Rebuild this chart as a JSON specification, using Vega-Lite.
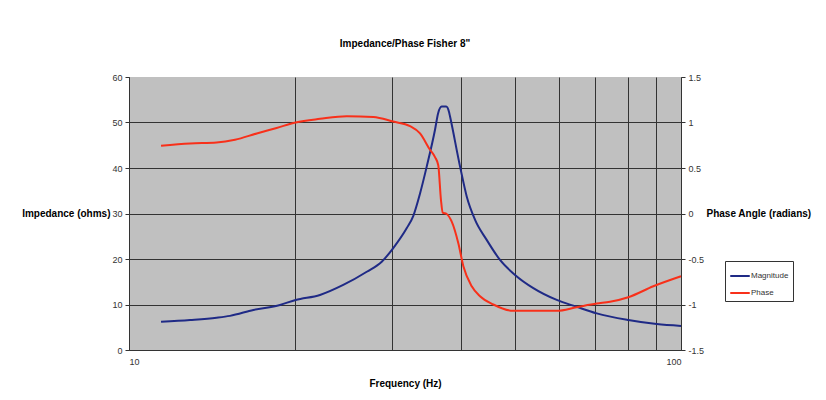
{
  "$schema": "https://vega.github.io/schema/vega-lite/v6.json",
  "autosize": {"type": "none"},
  "width": 552,
  "height": 273,
  "padding": {"left": 129, "top": 77, "right": 145, "bottom": 50},
  "background": "#ffffff",
  "config": {
    "font": "Liberation Sans",
    "view": {"stroke": null, "fill": "#c0c0c0"},
    "axis": {"labelFont": "Liberation Sans", "titleFont": "Liberation Sans", "labelFontSize": 9, "labelColor": "#333333", "titleFontSize": 10, "titleFontWeight": "bold", "titleColor": "#000000", "domainColor": "#333333", "tickColor": "#333333", "gridColor": "#333333", "gridWidth": 1, "domainWidth": 1}
  },
  "title": {"text": "Impedance/Phase Fisher 8\"", "fontSize": 10, "font": "Liberation Sans", "fontWeight": "bold", "offset": 24, "anchor": "middle"},
  "data": {"values": [
    {"f": 11.43, "series": "Magnitude", "v": 6.2},
    {"f": 12.9, "series": "Magnitude", "v": 6.6},
    {"f": 14.41, "series": "Magnitude", "v": 7.1},
    {"f": 15.24, "series": "Magnitude", "v": 7.5},
    {"f": 16.8, "series": "Magnitude", "v": 8.8},
    {"f": 18.77, "series": "Magnitude", "v": 9.9},
    {"f": 20.04, "series": "Magnitude", "v": 11.0},
    {"f": 22.18, "series": "Magnitude", "v": 12.1},
    {"f": 24.44, "series": "Magnitude", "v": 14.3},
    {"f": 26.96, "series": "Magnitude", "v": 17.2},
    {"f": 28.7, "series": "Magnitude", "v": 19.4},
    {"f": 30.11, "series": "Magnitude", "v": 22.4},
    {"f": 31.86, "series": "Magnitude", "v": 26.8},
    {"f": 32.74, "series": "Magnitude", "v": 29.5},
    {"f": 33.67, "series": "Magnitude", "v": 34.4},
    {"f": 34.62, "series": "Magnitude", "v": 40.3},
    {"f": 35.84, "series": "Magnitude", "v": 48.4},
    {"f": 36.3, "series": "Magnitude", "v": 52.0},
    {"f": 36.85, "series": "Magnitude", "v": 53.5},
    {"f": 37.55, "series": "Magnitude", "v": 53.5},
    {"f": 38.0, "series": "Magnitude", "v": 52.3},
    {"f": 38.16, "series": "Magnitude", "v": 51.3},
    {"f": 39.79, "series": "Magnitude", "v": 40.3},
    {"f": 40.92, "series": "Magnitude", "v": 33.7},
    {"f": 42.36, "series": "Magnitude", "v": 28.6},
    {"f": 44.46, "series": "Magnitude", "v": 24.2},
    {"f": 47.0, "series": "Magnitude", "v": 19.8},
    {"f": 50.04, "series": "Magnitude", "v": 16.5},
    {"f": 54.01, "series": "Magnitude", "v": 13.6},
    {"f": 59.55, "series": "Magnitude", "v": 11.0},
    {"f": 64.72, "series": "Magnitude", "v": 9.5},
    {"f": 70.37, "series": "Magnitude", "v": 8.05},
    {"f": 80.27, "series": "Magnitude", "v": 6.6},
    {"f": 90.36, "series": "Magnitude", "v": 5.7},
    {"f": 100, "series": "Magnitude", "v": 5.3},
    {"f": 11.43, "series": "Phase", "v": 0.745},
    {"f": 12.9, "series": "Phase", "v": 0.77},
    {"f": 14.41, "series": "Phase", "v": 0.78},
    {"f": 15.56, "series": "Phase", "v": 0.81},
    {"f": 17.04, "series": "Phase", "v": 0.88},
    {"f": 18.51, "series": "Phase", "v": 0.94},
    {"f": 20.04, "series": "Phase", "v": 1.0},
    {"f": 22.18, "series": "Phase", "v": 1.04},
    {"f": 24.8, "series": "Phase", "v": 1.07},
    {"f": 27.71, "series": "Phase", "v": 1.06},
    {"f": 30.11, "series": "Phase", "v": 1.01},
    {"f": 32.3, "series": "Phase", "v": 0.96},
    {"f": 33.67, "series": "Phase", "v": 0.88},
    {"f": 35.1, "series": "Phase", "v": 0.7},
    {"f": 35.84, "series": "Phase", "v": 0.62},
    {"f": 36.33, "series": "Phase", "v": 0.53},
    {"f": 36.74, "series": "Phase", "v": 0.15},
    {"f": 37.01, "series": "Phase", "v": 0.01},
    {"f": 37.63, "series": "Phase", "v": -0.005},
    {"f": 38.43, "series": "Phase", "v": -0.09},
    {"f": 39.51, "series": "Phase", "v": -0.33},
    {"f": 40.34, "series": "Phase", "v": -0.58},
    {"f": 41.77, "series": "Phase", "v": -0.8},
    {"f": 43.24, "series": "Phase", "v": -0.91},
    {"f": 45.71, "series": "Phase", "v": -1.0},
    {"f": 49.69, "series": "Phase", "v": -1.07},
    {"f": 59.55, "series": "Phase", "v": -1.07},
    {"f": 64.72, "series": "Phase", "v": -1.03},
    {"f": 70.37, "series": "Phase", "v": -0.99},
    {"f": 74.37, "series": "Phase", "v": -0.97},
    {"f": 80.27, "series": "Phase", "v": -0.92},
    {"f": 89.08, "series": "Phase", "v": -0.8},
    {"f": 100, "series": "Phase", "v": -0.69}
  ]},
  "encoding": {
    "x": {"field": "f", "type": "quantitative",
      "scale": {"type": "log", "domain": [10, 100], "nice": false},
      "axis": {"title": "Frequency (Hz)", "values": [10, 20, 30, 40, 50, 60, 70, 80, 90, 100], "labelExpr": "datum.value == 10 || datum.value == 100 ? datum.label : ''", "ticks": false, "labelPadding": 7, "titlePadding": 12, "grid": true}
    },
    "color": {"field": "series", "type": "nominal",
      "scale": {"domain": ["Magnitude", "Phase"], "range": ["#1f2a86", "#f8301a"]},
      "legend": {"title": null, "orient": "none", "legendX": 596, "legendY": 184, "symbolType": "stroke", "symbolSize": 380, "symbolStrokeWidth": 2, "labelFontSize": 8, "labelFont": "Liberation Sans", "labelColor": "#333333", "strokeColor": "#333333", "fillColor": "#ffffff", "padding": 4, "rowPadding": 2, "labelOffset": 0}
    }
  },
  "layer": [
    {
      "transform": [{"filter": "datum.series == 'Magnitude'"}],
      "mark": {"type": "line", "strokeWidth": 2, "interpolate": "monotone"},
      "encoding": {
        "y": {"field": "v", "type": "quantitative",
          "scale": {"domain": [0, 60], "nice": false},
          "axis": {"title": "Impedance (ohms)", "orient": "left", "values": [0, 10, 20, 30, 40, 50, 60], "tickSize": 4, "labelPadding": 3, "titleAngle": 0, "titleAlign": "right", "titleBaseline": "middle", "titleX": -19, "titleY": 136.5, "grid": true, "gridColor": {"condition": {"test": "datum.value == 60", "value": "transparent"}, "value": "#333333"}}
        }
      }
    },
    {
      "transform": [{"filter": "datum.series == 'Phase'"}],
      "mark": {"type": "line", "strokeWidth": 2, "interpolate": "monotone"},
      "encoding": {
        "y": {"field": "v", "type": "quantitative",
          "scale": {"domain": [-1.5, 1.5], "nice": false},
          "axis": {"title": "Phase Angle (radians)", "orient": "right", "values": [-1.5, -1, -0.5, 0, 0.5, 1, 1.5], "labelExpr": "'' + datum.value", "tickSize": 4, "labelPadding": 3, "titleAngle": 0, "titleAlign": "left", "titleBaseline": "middle", "titleX": 25, "titleY": 136.5, "grid": false}
        }
      }
    }
  ],
  "resolve": {"scale": {"y": "independent"}}
}
